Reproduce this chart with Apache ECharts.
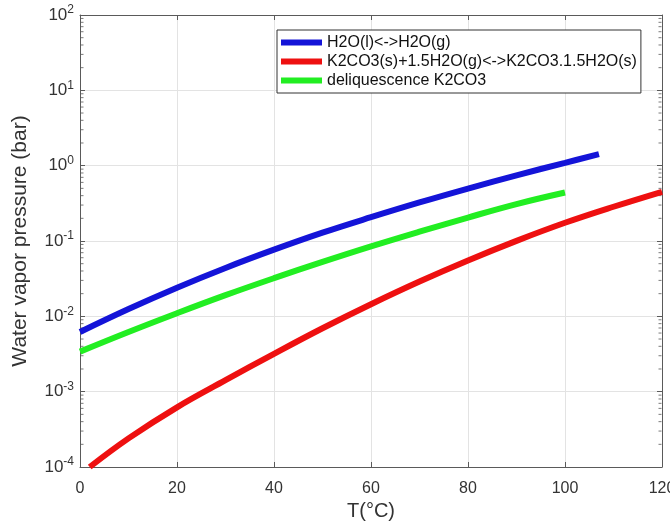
<!DOCTYPE html>
<html>
<head>
<meta charset="utf-8">
<script src="https://cdn.jsdelivr.net/npm/echarts@6/dist/echarts.min.js"></script>
<style>html,body{margin:0;padding:0;background:#fff;}#c{width:670px;height:524px;}</style>
</head>
<body>
<div id="c"></div>
<script>
// Data
var seriesNames = ['H2O(l)<->H2O(g)', 'K2CO3(s)+1.5H2O(g)<->K2CO3.1.5H2O(s)', 'deliquescence K2CO3'];
var waterT = [0, 10, 20, 30, 40, 50, 60, 70, 80, 90, 100, 107];
var waterP = [0.0062, 0.0125, 0.024, 0.0439, 0.0767, 0.129, 0.207, 0.325, 0.497, 0.745, 1.09, 1.42];
var hydrT = [2, 10, 20, 30, 40, 50, 60, 70, 80, 90, 100, 110, 120];
var hydrP = [0.0001, 0.00024, 0.00062, 0.00142, 0.00318, 0.00695, 0.0145, 0.029, 0.0552, 0.1005, 0.1746, 0.285, 0.45];
var deliqT = [0, 10, 20, 30, 40, 50, 60, 70, 80, 90, 100];
var deliqP = [0.0034, 0.0062, 0.011, 0.0191, 0.0321, 0.0528, 0.0849, 0.133, 0.205, 0.309, 0.44];
var xTicks = [0, 20, 40, 60, 80, 100, 120];
var yDecades = [-4, -3, -2, -1, 0, 1];
var minorMultipliers = [2, 3, 4, 5, 6, 7, 8, 9];

function pairs(xs, ys) { return xs.map(function (x, i) { return [x, ys[i]]; }); }
var minorLeft = [], minorRight = [];
yDecades.forEach(function (e) {
  minorMultipliers.forEach(function (m) {
    var v = m * Math.pow(10, e);
    minorLeft.push([0, v]);
    minorRight.push([120, v]);
  });
});

var chart = echarts.init(document.getElementById('c'), null, { renderer: 'canvas' });
var font = 'Liberation Sans, Arial, Helvetica, sans-serif';
var gridColor = '#e3e3e3';
var axisColor = '#5a5a5a';
var textColor = '#333';

var option = {
  animation: false,
  backgroundColor: '#fff',
  grid: { left: 80, right: 8, top: 15, bottom: 57, containLabel: false, outerBoundsMode: 'none' },
  legend: {
    orient: 'vertical',
    left: 277, top: 30,
    backgroundColor: '#fff',
    borderColor: '#333', borderWidth: 1,
    padding: [4, 4, 4, 4],
    itemGap: 2,
    itemWidth: 41, itemHeight: 6,
    icon: 'rect',
    textStyle: { fontFamily: font, fontSize: 16, color: '#111', lineHeight: 17 },
    data: seriesNames
  },
  xAxis: [{
    type: 'value', min: 0, max: 120, interval: 20,
    name: 'T(°C)', nameLocation: 'middle', nameGap: 30,
    nameTextStyle: { fontFamily: font, fontSize: 20, color: textColor },
    axisLine: { show: true, onZero: false, lineStyle: { color: axisColor } },
    axisTick: { show: true, inside: true, length: 5, lineStyle: { color: axisColor } },
    axisLabel: { fontFamily: font, fontSize: 16, color: textColor, margin: 14,
      formatter: function (v) { return xTicks.indexOf(v) >= 0 ? String(v) : ''; } },
    splitLine: { show: true, lineStyle: { color: gridColor } }
  }, {
    type: 'value', min: 0, max: 120, interval: 20, position: 'top',
    axisLine: { show: true, onZero: false, lineStyle: { color: axisColor } },
    axisTick: { show: true, inside: true, length: 5, lineStyle: { color: axisColor } },
    axisLabel: { show: false }, splitLine: { show: false }
  }],
  yAxis: [{
    type: 'log', logBase: 10, min: 1e-4, max: 100,
    name: 'Water vapor pressure (bar)', nameLocation: 'middle', nameGap: 49,
    nameTextStyle: { fontFamily: font, fontSize: 21, color: textColor },
    axisLine: { show: true, onZero: false, lineStyle: { color: axisColor } },
    axisTick: { show: true, inside: true, length: 5, lineStyle: { color: axisColor } },
    axisLabel: {
      fontFamily: font, margin: 6,
      formatter: function (v) {
        var e = Math.round(Math.log10(v));
        return '{b|10}{s|' + e + '}';
      },
      rich: {
        b: { fontFamily: font, fontSize: 17, color: textColor },
        s: { fontFamily: font, fontSize: 12, color: textColor, padding: [0, 0, 10, 0] }
      }
    },
    splitLine: { show: true, lineStyle: { color: gridColor } }
  }, {
    type: 'log', logBase: 10, min: 1e-4, max: 100, position: 'right',
    axisLine: { show: true, onZero: false, lineStyle: { color: axisColor } },
    axisTick: { show: true, inside: true, length: 5, lineStyle: { color: axisColor } },
    axisLabel: { show: false }, splitLine: { show: false }
  }],
  series: [{
    name: seriesNames[0], type: 'line', smooth: 0.4, showSymbol: false,
    data: pairs(waterT, waterP), color: '#1414d8',
    lineStyle: { width: 6, color: '#1414d8' }, z: 3
  }, {
    name: seriesNames[1], type: 'line', smooth: 0.4, showSymbol: false,
    data: pairs(hydrT, hydrP), color: '#ee1010',
    lineStyle: { width: 6, color: '#ee1010' }, z: 3
  }, {
    name: seriesNames[2], type: 'line', smooth: 0.4, showSymbol: false,
    data: pairs(deliqT, deliqP), color: '#22ee22',
    lineStyle: { width: 6, color: '#22ee22' }, z: 3
  }, {
    type: 'scatter', data: minorLeft, symbol: 'rect', symbolSize: [3, 1],
    symbolOffset: [2, 0], itemStyle: { color: axisColor }, silent: true, z: 1
  }, {
    type: 'scatter', data: minorRight, symbol: 'rect', symbolSize: [3, 1],
    symbolOffset: [-2, 0], itemStyle: { color: axisColor }, silent: true, z: 1
  }]
};
chart.setOption(option);
</script>
</body>
</html>
